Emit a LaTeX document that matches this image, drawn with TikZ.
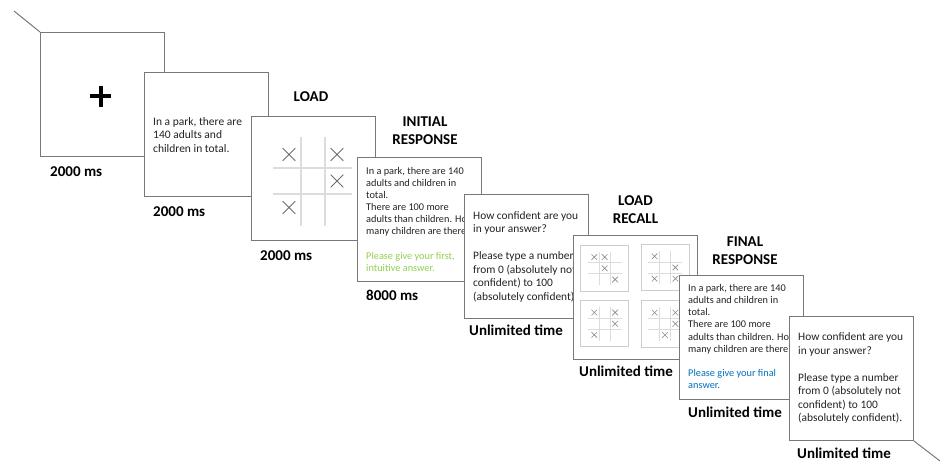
\documentclass[tikz,border=0pt]{standalone}
\usepackage{fontspec}
\setmainfont{Carlito}
\definecolor{boxgray}{RGB}{120,120,120}
\definecolor{gridgray}{RGB}{220,220,220}
\definecolor{markgray}{RGB}{110,110,110}
\definecolor{subgray}{RGB}{205,205,205}
\definecolor{lgreen}{RGB}{146,208,80}
\definecolor{qblue}{RGB}{0,112,192}
\definecolor{bodytext}{RGB}{35,35,35}
\tikzset{
  screen/.style={draw=boxgray, line width=1pt, fill=white, minimum width=124pt, minimum height=124pt, inner sep=0pt, anchor=north west},
  conn/.style={draw=boxgray, line width=1pt},
  bodyA/.style={anchor=north west, inner sep=0pt, align=left, text=bodytext, font=\fontsize{11.5}{13.5}\selectfont},
  bodyB/.style={anchor=north west, inner sep=0pt, align=left, text=bodytext, font=\fontsize{10.3}{12.1}\selectfont},
  bodyC/.style={anchor=north west, inner sep=0pt, align=left, text=bodytext, font=\fontsize{11.4}{13.5}\selectfont},
  timing/.style={anchor=west, inner sep=0pt, font=\bfseries\fontsize{15}{18}\selectfont},
  header/.style={anchor=center, inner sep=0pt, align=center, font=\bfseries\fontsize{15}{18}\selectfont},
  gridl/.style={draw=gridgray, line width=1.3pt},
  subgridl/.style={draw=gridgray, line width=0.8pt},
  xm/.style={draw=markgray, line width=0.9pt},
  sxm/.style={draw=markgray!80, line width=0.6pt},
  subbox/.style={draw=subgray, line width=1pt},
}
\newcommand{\bigmark}[2]{\draw[xm] (#1-6.3,#2-6.3) -- (#1+6.3,#2+6.3) (#1-6.3,#2+6.3) -- (#1+6.3,#2-6.3);}
\newcommand{\minigrid}[3]{%
  \begin{scope}[shift={(#1,#2)}]
    \draw[subbox] (-24,-23.2) rectangle (24,23.2);
    \draw[subgridl] (-5.2,-16.8) -- (-5.2,16.8) (5.2,-16.8) -- (5.2,16.8)
                    (-16.8,-5.5) -- (16.8,-5.5) (-16.8,5.5) -- (16.8,5.5);
    \foreach \c/\r in {#3} {
      \draw[sxm] ({(\c-1)*10.4-2.8},{(\r-1)*11.2-2.8}) -- ++(5.6,5.6)
                 ({(\c-1)*10.4-2.8},{(\r-1)*11.2+2.8}) -- ++(5.6,-5.6);
    }
  \end{scope}}
\begin{document}
\begin{tikzpicture}[x=1pt,y=-1pt]
\useasboundingbox (0,0) rectangle (940,467);
\fill[white] (0,0) rectangle (940,467);

% screen 1: fixation
\coordinate (start) at (14,11);
\node[screen] (b1) at (40,32) {};
\draw[conn] (start) -- (b1.north west);
\draw[line width=4pt] (90,96) -- (111,96) (100.5,85.5) -- (100.5,106.5);
\node[timing] (t1) at (50,172) {2000 ms};

% screen 2: base-rate
\node[screen] (b2) at (144,72) {};
\node[bodyA] (x2) at (153,117) {In a park, there are\\140 adults and\\children in total.};
\node[timing] (t2) at (153,212) {2000 ms};

% screen 3: load
\node[header] (h3) at (311,97) {LOAD};
\node[screen] (b3) at (251,115.5) {};
\draw[gridl] (301,137) -- (301,226) (325,137) -- (325,226)
             (273,168) -- (352,168) (273,194) -- (352,194);
\bigmark{289}{154.5}
\bigmark{337}{154.5}
\bigmark{337}{181}
\bigmark{289}{207.5}
\node[timing] (t3) at (260,256) {2000 ms};

% screen 4: initial response
\node[header] (h4) at (425,130.5) {INITIAL\\RESPONSE};
\node[screen] (b4) at (357,157) {};
\node[bodyB] (x4) at (366,167) {In a park, there are 140\\adults and children in\\total.\\There are 100 more\\adults than children. How\\many children are there?};
\node[bodyB, text=lgreen] (g4) at (366,252) {Please give your first,\\intuitive answer.};
\node[timing] (t4) at (366,295) {8000 ms};

% screen 5: confidence
\node[screen] (b5) at (464,194) {};
\node[bodyC] (x5) at (473,211) {How confident are you\\in your answer?};
\node[bodyC] (y5) at (473,251.5) {Please type a number\\from 0 (absolutely not\\confident) to 100\\(absolutely confident).};
\node[timing] (t5) at (469,330) {Unlimited time};

% screen 6: load recall
\node[header] (h6) at (635.5,209.5) {LOAD\\RECALL};
\node[screen] (b6) at (573,235) {};
\minigrid{604.7}{268.3}{0/0,1/0,1/1,2/2}
\minigrid{665}{267.5}{0/0,2/1,0/2,2/2}
\minigrid{604.7}{323.7}{0/0,2/0,2/1,0/2}
\minigrid{665}{323.8}{0/0,2/0,2/1,1/2}
\node[timing] (t6) at (579,371.5) {Unlimited time};

% screen 7: final response
\node[header] (h7) at (745,250.5) {FINAL\\RESPONSE};
\node[screen] (b7) at (679,275) {};
\node[bodyB] (x7) at (688,284.3) {In a park, there are 140\\adults and children in\\total.\\There are 100 more\\adults than children. How\\many children are there?};
\node[bodyB, text=qblue] (g7) at (688,369) {Please give your final\\answer.};
\node[timing] (t7) at (688,412) {Unlimited time};

% screen 8: final confidence
\node[screen] (b8) at (789,316) {};
\node[bodyC] (x8) at (798,332.7) {How confident are you\\in your answer?};
\node[bodyC] (y8) at (798,373.3) {Please type a number\\from 0 (absolutely not\\confident) to 100\\(absolutely confident).};
\node[timing] (t8) at (797,453) {Unlimited time};
\coordinate (finish) at (940,461);
\draw[conn] (b8.south east) -- (finish);
\end{tikzpicture}
\end{document}
